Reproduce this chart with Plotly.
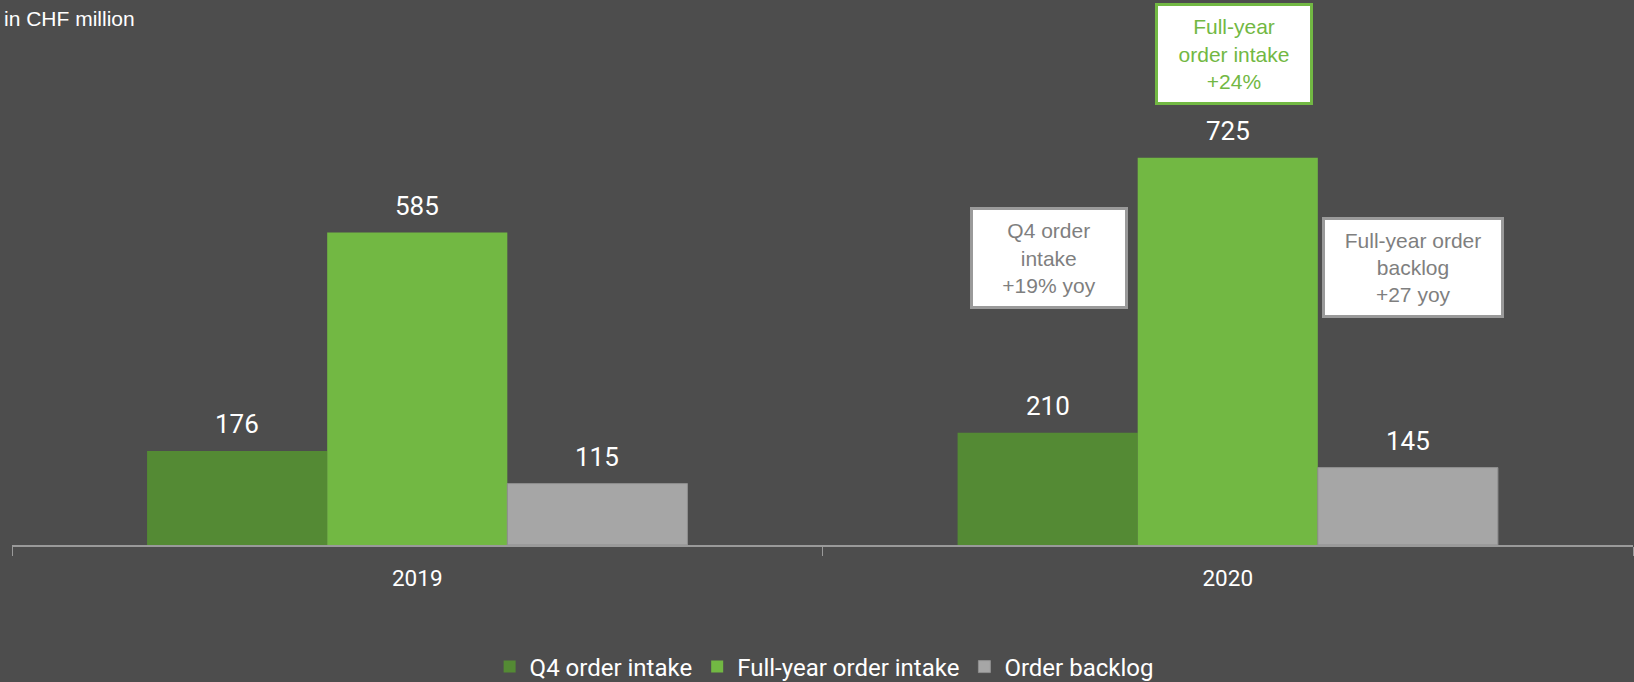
import plotly.graph_objects as go

categories = ["2019", "2020"]
series_names = ["Q4 order intake", "Full-year order intake", "Order backlog"]
q4_intake = [176, 210]
fy_intake = [585, 725]
backlog = [115, 145]
colors = ["#548a34", "#72b843", "#a6a6a6"]

series_values = [q4_intake, fy_intake, backlog]

BG = "#4d4d4d"
bargap = 1/3
bw = (1 - bargap) / 3

fig = go.Figure()
for name, vals, col in zip(series_names, series_values, colors):
    fig.add_trace(go.Bar(
        x=categories, y=vals, name=name,
        marker=dict(color=col, line=dict(width=1 if col == "#a6a6a6" else 0, color="#8f8f8f")),
        hoverinfo="skip",
    ))

# value labels
for j, vals in enumerate(series_values):
    for i, v in enumerate(vals):
        fig.add_annotation(
            x=i + (j - 1) * bw, y=v, xref="x", yref="y",
            text=str(v), showarrow=False, yanchor="middle", yshift=27,
            font=dict(family="Roboto", size=26, color="#ffffff"),
        )

# callout boxes
fig.add_annotation(
    xref="paper", yref="paper", x=(1234 - 12) / 1621, y=(545 - 53.5) / 534,
    text="Full-year<br>order intake<br>+24%", showarrow=False,
    font=dict(family="Liberation Sans, Arial", size=21, color="#72b843"),
    bgcolor="#ffffff", bordercolor="#72b843", borderwidth=3, borderpad=0,
    width=152, height=96, xanchor="center", yanchor="middle", align="center",
)
fig.add_annotation(
    xref="paper", yref="paper", x=(1049 - 12) / 1621, y=(545 - 257.5) / 534,
    text="Q4 order<br>intake<br>+19% yoy", showarrow=False,
    font=dict(family="Liberation Sans, Arial", size=21, color="#7f7f7f"),
    bgcolor="#ffffff", bordercolor="#9a9a9a", borderwidth=3, borderpad=0,
    width=152, height=96, xanchor="center", yanchor="middle", align="center",
)
fig.add_annotation(
    xref="paper", yref="paper", x=(1413 - 12) / 1621, y=(545 - 267) / 534,
    text="Full-year order<br>backlog<br>+27 yoy", showarrow=False,
    font=dict(family="Liberation Sans, Arial", size=21, color="#7f7f7f"),
    bgcolor="#ffffff", bordercolor="#9a9a9a", borderwidth=3, borderpad=0,
    width=176, height=95, xanchor="center", yanchor="middle", align="center",
)

# unit label
fig.add_annotation(
    xref="paper", yref="paper", x=-10 / 1621, y=(545 - 18) / 534,
    text="in CHF million", showarrow=False, xanchor="left", yanchor="middle",
    font=dict(family="Liberation Sans, Arial", size=21, color="#ffffff"),
)

fig.update_layout(
    width=1634, height=682,
    paper_bgcolor=BG, plot_bgcolor=BG,
    margin=dict(l=12, r=1, t=11, b=137, autoexpand=False),
    barmode="group", bargap=bargap, bargroupgap=0,
    showlegend=True,
    legend=dict(
        orientation="h", x=0.501, xanchor="center", y=(545 - 667) / 534, yanchor="middle",
        font=dict(family="Roboto", size=24, color="#ffffff"),
        bgcolor="rgba(0,0,0,0)",
    ),
    xaxis=dict(
        type="category", showgrid=False, zeroline=False,
        showline=True, linecolor="#9a9a9a", linewidth=2,
        ticks="outside", tickson="boundaries", ticklen=9, tickcolor="#9a9a9a", tickwidth=1,
        tickfont=dict(family="Roboto", size=22.5, color="#ffffff"),
        ticklabelstandoff=12,
    ),
    yaxis=dict(range=[0, 1000], visible=False, showgrid=False, zeroline=False),
)

fig.write_html(
    "out.html",
    config={"displayModeBar": False},
    post_script="document.body.style.margin='0';document.body.style.padding='0';"
                "document.body.style.background='#4d4d4d';document.body.style.overflow='hidden';",
)
